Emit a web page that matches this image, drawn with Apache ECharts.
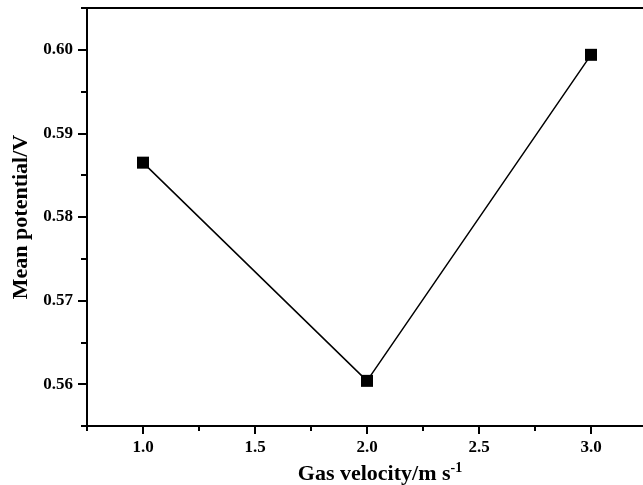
<!DOCTYPE html>
<html>
<head>
<meta charset="utf-8">
<script src="https://cdn.jsdelivr.net/npm/echarts@6/dist/echarts.min.js"></script>
<style>
  html, body { margin: 0; padding: 0; background: #fff; }
  #chart { width: 643px; height: 485px; }
</style>
</head>
<body>
<div id="chart"></div>
<script>
// gas velocity (m/s) vs mean potential (V)
var velocity = [1.0, 2.0, 3.0]
var potential = [0.5865, 0.5604, 0.5994]

var xTicks = [1.0, 1.5, 2.0, 2.5, 3.0]
var xMinorTicks = [0.75, 1.25, 1.75, 2.25, 2.75, 3.25]
var yTicks = [0.56, 0.57, 0.58, 0.59, 0.60]
var yMinorTicks = [0.555, 0.565, 0.575, 0.585, 0.595, 0.605]

var font = 'Liberation Serif, Times New Roman, serif'
var black = '#000'

var chart = echarts.init(document.getElementById('chart'))
chart.setOption({
    animation: false,
    grid: { left: 87, right: -4, top: 8, bottom: 59, outerBoundsMode: 'none' },
    xAxis: [{
        type: 'value',
        position: 'bottom',
        min: 0.75,
        max: 3.25,
        interval: 0.25,
        name: '{a|Gas velocity/m s}{s|-1}',
        nameLocation: 'middle',
        nameGap: 35,
        nameTextStyle: {
            padding: [0, 0, 0, 26],
            rich: {
                a: { fontFamily: font, fontWeight: 'bold', fontSize: 22, color: black },
                s: { fontFamily: font, fontWeight: 'bold', fontSize: 14, color: black, verticalAlign: 'top', padding: [0, 0, 12, 0] }
            }
        },
        axisLine: { lineStyle: { color: black, width: 2 } },
        axisTick: { show: true, length: 8, customValues: xTicks, lineStyle: { color: black, width: 2 } },
        splitLine: { show: false },
        axisLabel: {
            customValues: xTicks,
            fontFamily: font, fontWeight: 'bold', fontSize: 17, color: black, margin: 13,
            formatter: function (v) { return v.toFixed(1) }
        }
    }, {
        type: 'value',
        position: 'bottom',
        offset: 0,
        min: 0.75,
        max: 3.25,
        interval: 0.25,
        axisLine: { show: false },
        axisTick: { show: true, length: 5, customValues: xMinorTicks, lineStyle: { color: black, width: 2 } },
        axisLabel: { show: false },
        splitLine: { show: false }
    }, {
        type: 'value',
        position: 'top',
        min: 0.75,
        max: 3.25,
        axisLine: { show: true, lineStyle: { color: black, width: 2 } },
        axisTick: { show: false },
        axisLabel: { show: false },
        splitLine: { show: false }
    }],
    yAxis: [{
        type: 'value',
        position: 'left',
        min: 0.555,
        max: 0.605,
        interval: 0.005,
        name: 'Mean potential/V',
        nameLocation: 'middle',
        nameGap: 53,
        nameTextStyle: { fontFamily: font, fontWeight: 'bold', fontSize: 22, color: black },
        axisLine: { show: true, lineStyle: { color: black, width: 2 } },
        axisTick: { show: true, length: 9, customValues: yTicks, lineStyle: { color: black, width: 2 } },
        splitLine: { show: false },
        axisLabel: {
            customValues: yTicks,
            fontFamily: font, fontWeight: 'bold', fontSize: 17, color: black, margin: 14,
            formatter: function (v) { return v.toFixed(2) }
        }
    }, {
        type: 'value',
        position: 'left',
        offset: 0,
        min: 0.555,
        max: 0.605,
        interval: 0.005,
        axisLine: { show: false },
        axisTick: { show: true, length: 6, customValues: yMinorTicks, lineStyle: { color: black, width: 2 } },
        axisLabel: { show: false },
        splitLine: { show: false }
    }],
    series: [{
        type: 'line',
        xAxisIndex: 0,
        yAxisIndex: 0,
        data: velocity.map(function (x, i) { return [x, potential[i]] }),
        symbol: 'rect',
        symbolSize: 12,
        itemStyle: { color: black },
        lineStyle: { color: black, width: 1.5 }
    }]
})
</script>
</body>
</html>
